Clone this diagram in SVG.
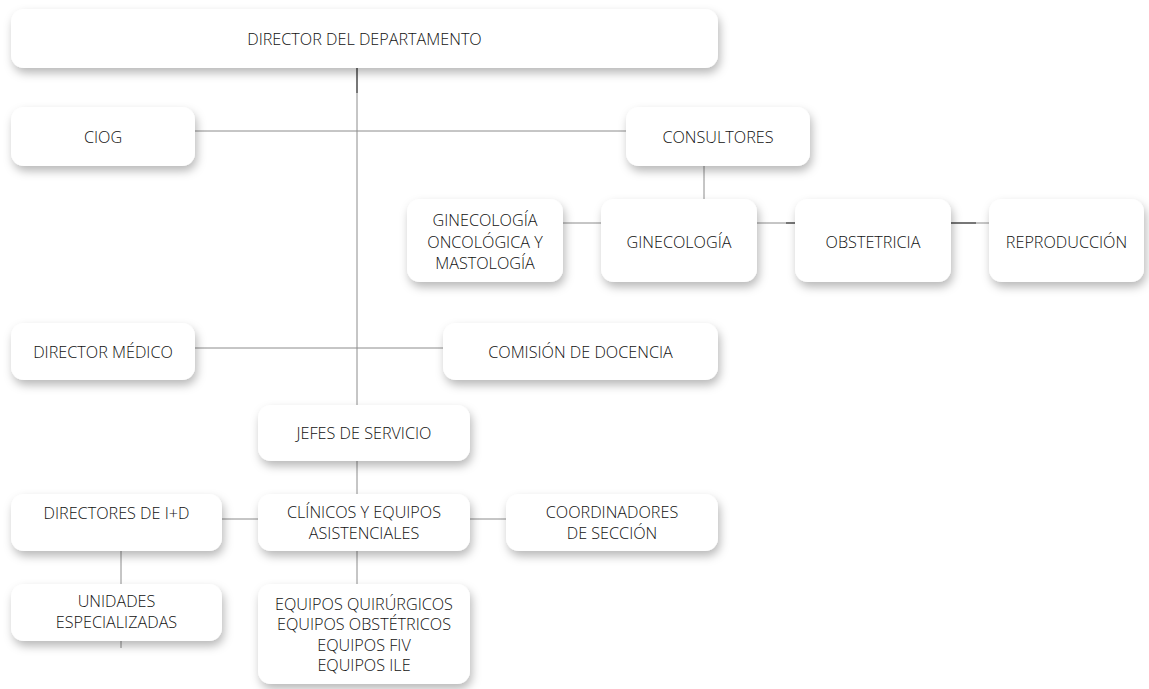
<svg xmlns="http://www.w3.org/2000/svg" width="1149" height="689" viewBox="0 0 1149 689">
<defs>
<filter id="sh" x="-20%" y="-30%" width="140%" height="180%">
<feDropShadow dx="2" dy="5" stdDeviation="5" flood-color="#000" flood-opacity="0.28"/>
</filter>
</defs>
<style>
.box{fill:#fff;filter:url(#sh)}
.t{font-family:"Open Sans","Noto Sans","Liberation Sans",sans-serif;font-size:16.2px;font-weight:300;fill:#111;text-anchor:middle}
.ln{stroke:#8c8c8c;stroke-width:1;fill:none}
.dk{stroke:#777;stroke-width:2;fill:none}
</style>
<rect width="1149" height="689" fill="#fff"/>
<g id="connectors">
<path class="ln" d="M357 68V405M357 461V494M357 551V584"/>
<path class="dk" d="M357 68V93"/>
<path class="ln" d="M195 131H626"/>
<path class="ln" d="M704 166V199"/>
<path class="ln" d="M563 223H601M757 223H795M951 223H989"/>
<path class="dk" d="M786 223H795M951 223H976"/>
<path class="ln" d="M195 348H443"/>
<path class="ln" d="M222 519H258M470 519H506"/>
<path class="ln" d="M121 551V584M121 641V648"/>
</g>
<g id="director-departamento"><rect class="box" x="11" y="9" width="707" height="59" rx="13"/><text class="t" x="364.5" y="45">DIRECTOR DEL DEPARTAMENTO</text></g>
<g id="ciog"><rect class="box" x="11" y="107" width="184" height="59" rx="13"/><text class="t" x="103" y="143">CIOG</text></g>
<g id="consultores"><rect class="box" x="626" y="107" width="184" height="59" rx="13"/><text class="t" x="718" y="143">CONSULTORES</text></g>
<g id="gin-oncologica"><rect class="box" x="407" y="199" width="156" height="83" rx="13"/><text class="t" x="485" y="226">GINECOLOGÍA</text><text class="t" x="485" y="247.5">ONCOLÓGICA Y</text><text class="t" x="485" y="268.5">MASTOLOGÍA</text></g>
<g id="ginecologia"><rect class="box" x="601" y="199" width="156" height="83" rx="13"/><text class="t" x="679" y="247.5">GINECOLOGÍA</text></g>
<g id="obstetricia"><rect class="box" x="795" y="199" width="156" height="83" rx="13"/><text class="t" x="873" y="247.5">OBSTETRICIA</text></g>
<g id="reproduccion"><rect class="box" x="989" y="199" width="155" height="83" rx="13"/><text class="t" x="1066.5" y="247.5">REPRODUCCIÓN</text></g>
<g id="director-medico"><rect class="box" x="11" y="323" width="184" height="57" rx="13"/><text class="t" x="103" y="358">DIRECTOR MÉDICO</text></g>
<g id="comision-docencia"><rect class="box" x="443" y="323" width="275" height="57" rx="13"/><text class="t" x="580.5" y="358">COMISIÓN DE DOCENCIA</text></g>
<g id="jefes-servicio"><rect class="box" x="258" y="405" width="212" height="56" rx="13"/><text class="t" x="364" y="439">JEFES DE SERVICIO</text></g>
<g id="directores-id"><rect class="box" x="11" y="494" width="211" height="57" rx="13"/><text class="t" x="116.5" y="519">DIRECTORES DE I+D</text></g>
<g id="clinicos"><rect class="box" x="258" y="494" width="212" height="57" rx="13"/><text class="t" x="364" y="517.5">CLÍNICOS Y EQUIPOS</text><text class="t" x="364" y="538.5">ASISTENCIALES</text></g>
<g id="coordinadores"><rect class="box" x="506" y="494" width="212" height="57" rx="13"/><text class="t" x="612" y="517.5">COORDINADORES</text><text class="t" x="612" y="538.5">DE SECCIÓN</text></g>
<g id="unidades"><rect class="box" x="11" y="584" width="211" height="57" rx="13"/><text class="t" x="116.5" y="607">UNIDADES</text><text class="t" x="116.5" y="628">ESPECIALIZADAS</text></g>
<g id="equipos"><rect class="box" x="258" y="584" width="212" height="100" rx="13"/><text class="t" x="364" y="609.5">EQUIPOS QUIRÚRGICOS</text><text class="t" x="364" y="630">EQUIPOS OBSTÉTRICOS</text><text class="t" x="364" y="650.5">EQUIPOS FIV</text><text class="t" x="364" y="671">EQUIPOS ILE</text></g>
</svg>
